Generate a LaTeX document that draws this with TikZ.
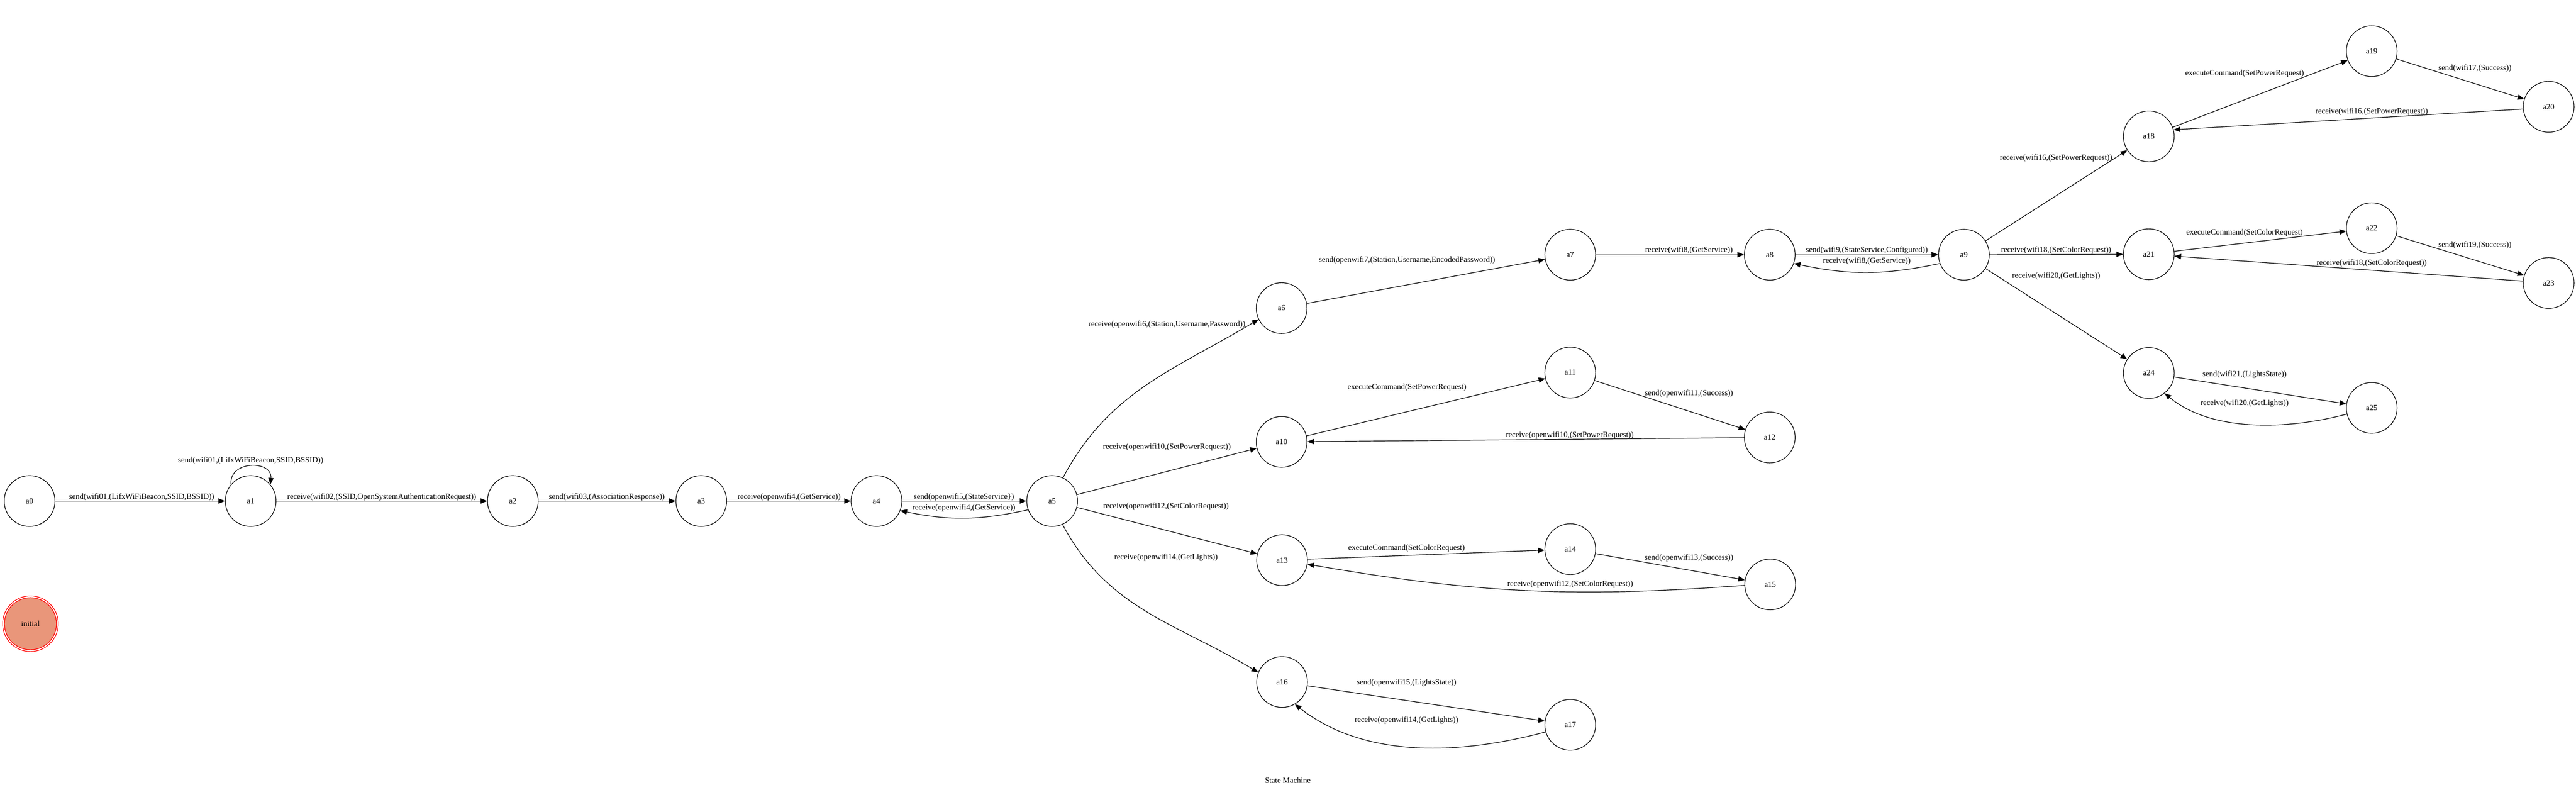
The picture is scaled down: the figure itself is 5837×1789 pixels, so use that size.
\documentclass[tikz,border=0pt]{standalone}
\usepackage{fontspec}
\setmainfont{Liberation Serif}
\usetikzlibrary{arrows.meta}
\definecolor{initfill}{HTML}{E9967A}
\newcommand\lblfont{\fontsize{5.12pt}{6pt}\selectfont}
\begin{document}
\begin{tikzpicture}[x=0.01cm, y=-0.01cm,
  state/.style={circle, draw, line width=0.4pt, minimum size=1.15cm, inner sep=0pt, font=\lblfont},
  edge/.style={line width=0.4pt, -{Triangle[length=0.15cm,width=0.12cm]}},
  lbl/.style={inner sep=0pt, font=\lblfont}]
\useasboundingbox (0,0) rectangle (5837,1789);
% states
\node[state] (a0) at (67,1135) {a0};
\node[state] (a1) at (568,1135) {a1};
\node[state] (a2) at (1162,1135) {a2};
\node[state] (a3) at (1589,1135) {a3};
\node[state] (a4) at (1986,1135) {a4};
\node[state] (a5) at (2384,1135) {a5};
\node[state] (a6) at (2904,698) {a6};
\node[state] (a7) at (3558,577) {a7};
\node[state] (a8) at (4010,577) {a8};
\node[state] (a9) at (4450,577) {a9};
\node[state] (a10) at (2904,1001) {a10};
\node[state] (a11) at (3558,844) {a11};
\node[state] (a12) at (4010,991) {a12};
\node[state] (a13) at (2905,1269) {a13};
\node[state] (a14) at (3558,1244) {a14};
\node[state] (a15) at (4011,1324) {a15};
\node[state] (a16) at (2905,1545) {a16};
\node[state] (a17) at (3558,1642) {a17};
\node[state] (a18) at (4869,309) {a18};
\node[state] (a19) at (5374,116) {a19};
\node[state] (a20) at (5775,242) {a20};
\node[state] (a21) at (4869,576) {a21};
\node[state] (a22) at (5374,517) {a22};
\node[state] (a23) at (5775,641) {a23};
\node[state] (a24) at (4869,845) {a24};
\node[state] (a25) at (5374,924) {a25};
% initial
\node[state, draw=red, fill=initfill, minimum size=1.18cm] (init) at (69,1413) {initial};
\draw[red, line width=0.4pt] (init.center) circle[radius=0.63cm];
% edges
\draw[edge] (a0) -- (a1);
\draw[edge] (a1.140) to[out=95,in=85,looseness=1.6] (a1.40);
\draw[edge] (a1) -- (a2);
\draw[edge] (a2) -- (a3);
\draw[edge] (a3) -- (a4);
\draw[edge] (a4) -- (a5);
\draw[edge] (a5.200) to[bend left=12] (a4.338);
\draw[edge] (a5.65) to[out=62,in=211] (a6.206);
\draw[edge] (a6) -- (a7);
\draw[edge] (a5) -- (a10);
\draw[edge] (a10) -- (a11);
\draw[edge] (a11) -- (a12);
\draw[edge] (a12) -- (a10);
\draw[edge] (a5) -- (a13);
\draw[edge] (a13) -- (a14);
\draw[edge] (a14) -- (a15);
\draw[edge] (a15.182) to[bend left=7] (a13.351);
\draw[edge] (a5.294) to[out=-62,in=149] (a16.158);
\draw[edge] (a16) -- (a17);
\draw[edge] (a17.196) to[out=195,in=-38,looseness=0.9] (a16.300);
\draw[edge] (a7) -- (a8);
\draw[edge] (a8) -- (a9);
\draw[edge] (a9.200) to[bend left=12] (a8.340);
\draw[edge] (a9) -- (a18);
\draw[edge] (a18) -- (a19);
\draw[edge] (a19) -- (a20);
\draw[edge] (a20.185) -- (a18.15);
\draw[edge] (a9) -- (a21);
\draw[edge] (a21) -- (a22);
\draw[edge] (a22) -- (a23);
\draw[edge] (a23) -- (a21);
\draw[edge] (a9) -- (a24);
\draw[edge] (a24) -- (a25);
\draw[edge] (a25.194) to[out=195,in=-40,looseness=0.85] (a24.308);
% labels
\node[lbl] (l1) at (321,1126) {send(wifi01,(LifxWiFiBeacon,SSID,BSSID))};
\node[lbl] (l2) at (568,1043) {send(wifi01,(LifxWiFiBeacon,SSID,BSSID))};
\node[lbl] (l3) at (865,1126) {receive(wifi02,(SSID,OpenSystemAuthenticationRequest))};
\node[lbl] (l4) at (1375,1126) {send(wifi03,(AssociationResponse))};
\node[lbl] (l5) at (1788,1126) {receive(openwifi4,(GetService))};
\node[lbl] (l6) at (2184,1126) {send(openwifi5,(StateService\})};
\node[lbl] (l7) at (2184,1151) {receive(openwifi4,(GetService))};
\node[lbl] (l8) at (2644,735) {receive(openwifi6,(Station,Username,Password))};
\node[lbl] (l9) at (3188,589) {send(openwifi7,(Station,Username,EncodedPassword))};
\node[lbl] (l10) at (2644,1013) {receive(openwifi10,(SetPowerRequest))};
\node[lbl] (l11) at (3188,878) {executeCommand(SetPowerRequest)};
\node[lbl] (l12) at (3827,891) {send(openwifi11,(Success))};
\node[lbl] (l13) at (3557,986) {receive(openwifi10,(SetPowerRequest))};
\node[lbl] (l14) at (2642,1147) {receive(openwifi12,(SetColorRequest))};
\node[lbl] (l15) at (3187,1242) {executeCommand(SetColorRequest)};
\node[lbl] (l16) at (3827,1264) {send(openwifi13,(Success))};
\node[lbl] (l17) at (3558,1323) {receive(openwifi12,(SetColorRequest))};
\node[lbl] (l18) at (2642,1263) {receive(openwifi14,(GetLights))};
\node[lbl] (l19) at (3187,1547) {send(openwifi15,(LightsState))};
\node[lbl] (l20) at (3187,1632) {receive(openwifi14,(GetLights))};
\node[lbl] (l21) at (3827,567) {receive(wifi8,(GetService))};
\node[lbl] (l22) at (4230,567) {send(wifi9,(StateService,Configured))};
\node[lbl] (l23) at (4230,592) {receive(wifi8,(GetService))};
\node[lbl] (l24) at (4659,358) {receive(wifi16,(SetPowerRequest))};
\node[lbl] (l25) at (5086,167) {executeCommand(SetPowerRequest)};
\node[lbl] (l26) at (5608,155) {send(wifi17,(Success))};
\node[lbl] (l27) at (5374,253) {receive(wifi16,(SetPowerRequest))};
\node[lbl] (l28) at (4659,567) {receive(wifi18,(SetColorRequest))};
\node[lbl] (l29) at (5086,527) {executeCommand(SetColorRequest)};
\node[lbl] (l30) at (5608,555) {send(wifi19,(Success))};
\node[lbl] (l31) at (5374,596) {receive(wifi18,(SetColorRequest))};
\node[lbl] (l32) at (4659,626) {receive(wifi20,(GetLights))};
\node[lbl] (l33) at (5086,848) {send(wifi21,(LightsState))};
\node[lbl] (l34) at (5086,914) {receive(wifi20,(GetLights))};
\node[lbl] (title) at (2918,1768) {State Machine};
\end{tikzpicture}
\end{document}
